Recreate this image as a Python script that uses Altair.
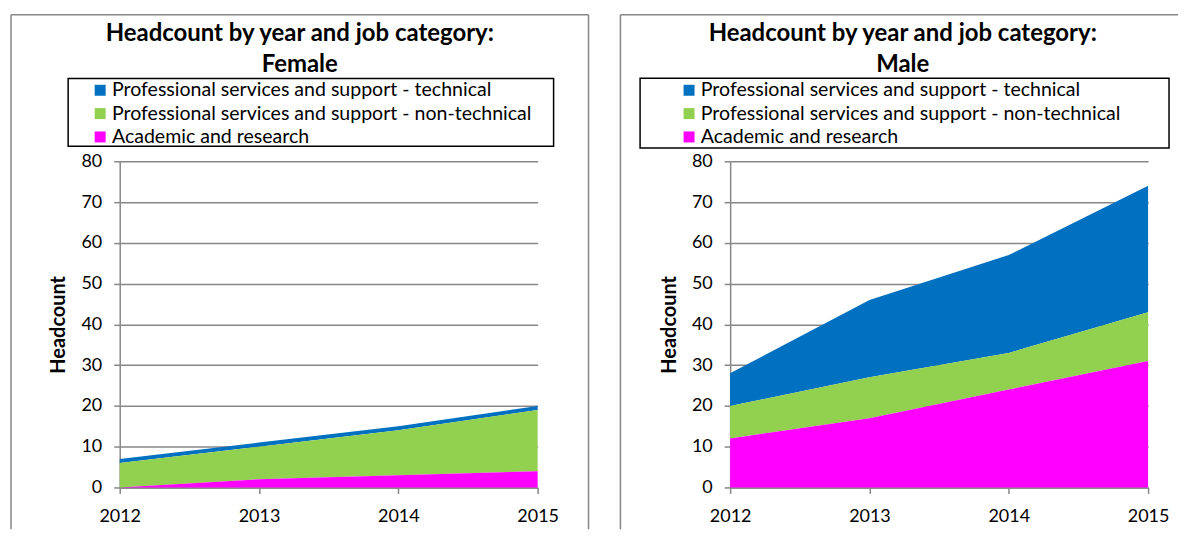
import altair as alt
import pandas as pd

years = [2012, 2013, 2014, 2015]
categories = [
    "Professional services and support - technical",
    "Professional services and support - non-technical",
    "Academic and research",
]
stack_rank = [2, 1, 0]
colors = ["#0070C0", "#92D050", "#FF00FF"]

female_technical = [1, 1, 1, 1]
female_non_technical = [6, 8, 11, 15]
female_academic = [0, 2, 3, 4]

male_technical = [8, 19, 24, 31]
male_non_technical = [8, 10, 9, 12]
male_academic = [12, 17, 24, 31]

y_ticks = [0, 10, 20, 30, 40, 50, 60, 70, 80]
title_line = "Headcount by year and job category:"
y_title = "Headcount"

FONT = "Lato"
GRAY = "#878787"
W, H = 419, 327


def make_df(series):
    rows = []
    for cat, rank, vals in zip(categories, stack_rank, series):
        for yr, v in zip(years, vals):
            rows.append({"year": yr, "category": cat, "rank": rank, "count": v})
    return pd.DataFrame(rows)


blank = alt.Data(values=[{}])


def vrule(x, y1, y2, color, sw):
    return alt.Chart(blank).mark_rule(color=color, strokeWidth=sw).encode(
        x=alt.value(x), y=alt.value(y1), y2=alt.value(y2))


def hrule(y, x1, x2, color, sw):
    return alt.Chart(blank).mark_rule(color=color, strokeWidth=sw).encode(
        y=alt.value(y), x=alt.value(x1), x2=alt.value(x2))


def box(x1, x2, y1, y2):
    return alt.Chart(blank).mark_rect(fill="white", fillOpacity=0, stroke="black", strokeWidth=1.5).encode(
        x=alt.value(x1), x2=alt.value(x2), y=alt.value(y1), y2=alt.value(y2))


def panel(series, subtitle, frame_layers, bx, lx, ly, tdx):
    df = make_df(series)
    area = alt.Chart(df).mark_area(opacity=1).encode(
        x=alt.X("year:Q",
                scale=alt.Scale(domain=[2012, 2015], nice=False, zero=False),
                axis=alt.Axis(values=years, format="d", title=None, grid=False,
                              labelFlush=False, labelFont=FONT, labelFontSize=18,
                              labelColor="black", labelPadding=14, tickSize=6,
                              tickColor=GRAY, domainColor=GRAY, domainWidth=1.5,
                              tickWidth=1.5)),
        y=alt.Y("count:Q", stack="zero",
                scale=alt.Scale(domain=[0, 80], nice=False),
                axis=alt.Axis(values=y_ticks, title=y_title, titleFont=FONT,
                              titleFontSize=20, titleFontWeight="bold", titleColor="black",
                              titlePadding=12, labelFont=FONT, labelFontSize=18,
                              labelColor="black", labelPadding=12, tickSize=6,
                              tickColor=GRAY, domainColor=GRAY, domainWidth=1.5,
                              tickWidth=1.5, gridColor=GRAY, gridWidth=1.5)),
        color=alt.Color("category:N",
                        scale=alt.Scale(domain=categories, range=colors),
                        legend=alt.Legend(orient="none", legendX=lx, legendY=ly,
                                          direction="vertical", title=None,
                                          symbolType="square", symbolSize=121,
                                          symbolStrokeWidth=0, symbolOpacity=1,
                                          labelFont=FONT, labelFontSize=19.6,
                                          labelColor="black", labelOffset=2,
                                          rowPadding=2.4, padding=0, labelLimit=800)),
        order=alt.Order("rank:Q", sort="ascending"),
    )
    layers = frame_layers + [box(*bx), area]
    return alt.layer(*layers).properties(
        width=W, height=H,
        title=alt.TitleParams(text=[title_line, subtitle], font=FONT, fontSize=24,
                              fontWeight="bold", color="black", anchor="middle",
                              frame="group", dx=tdx, lineHeight=31, offset=-63),
    )


left = panel(
    [female_technical, female_non_technical, female_academic], "Female",
    [vrule(-109, -147, 369, GRAY, 1.5), vrule(470, -147, 369, GRAY, 1.5),
     hrule(-147, -109, 470, GRAY, 1.5)],
    (-51.7, 435, -83, -15), -29.4, -81, -29,
)
right = panel(
    [male_technical, male_non_technical, male_academic], "Male",
    [vrule(-110, -147, 369, GRAY, 1.5), hrule(-147, -110, 449, GRAY, 1.5)],
    (-90.3, 440, -83.3, -13.3), -51, -81, -36.5,
)

chart = alt.hconcat(left, right, spacing=30).resolve_scale(color="independent").properties(
    padding={"left": 2, "top": 5, "right": 0, "bottom": 0}
).configure_view(strokeWidth=0)

chart.save("out.html", embed_options={"renderer": "svg", "actions": False})
